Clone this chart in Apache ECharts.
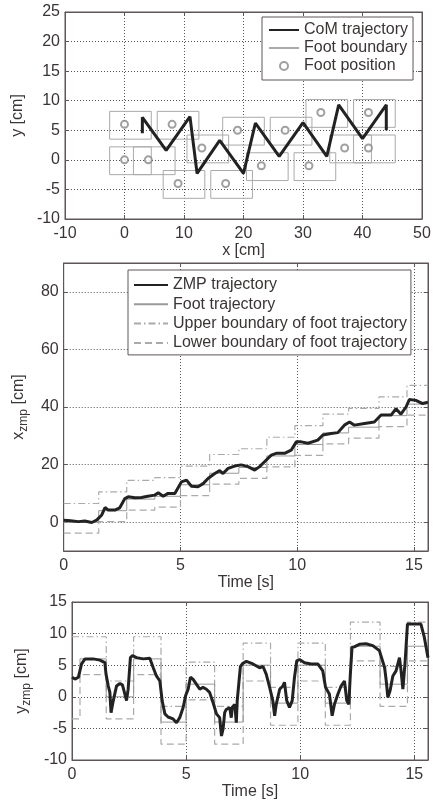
<!DOCTYPE html>
<html>
<head>
<meta charset="utf-8">
<script src="https://cdn.jsdelivr.net/npm/echarts@6/dist/echarts.min.js"></script>
<style>
html, body { margin: 0; padding: 0; background: #fff; }
#chartBox { width: 434px; height: 805px; }
</style>
</head>
<body>
<div id="chartBox"></div>
<script>
// top plot: CoM path and footprints [cm]
let comX = [3, 3, 7, 11, 12.2, 16, 20, 22, 26, 30, 34, 36, 40, 44, 44];
let comY = [4.5, 7.2, 1.6, 7.3, -2.3, 3.3, -2.3, 6.2, 0.6, 6.3, 0.6, 9.3, 3.6, 9.3, 5];
let footPosX = [0, 0, 4, 8, 9, 13, 17, 19, 23, 27, 31, 33, 37, 41, 41];
let footPosY = [6, 0, 0, 6, -4, 2, -4, 5, -1, 5, -1, 8, 2, 8, 2];
// foot outline around a foot position: back, front, lower, upper
let footBox = [-2.5, 4.5, -2.5, 2.2];

// middle plot: x_zmp over time
let zmpXTime = [0, 0.3, 0.63, 0.9, 1.2, 1.41, 1.62, 1.77, 1.91, 2.19, 2.4, 2.62, 2.76, 3.05, 3.33, 3.6, 3.9, 4.05, 4.26, 4.47,
    4.76, 5.04, 5.26, 5.47, 5.75, 5.97, 6.18, 6.47, 6.68, 6.82, 7.04, 7.32, 7.6, 7.89, 8.18, 8.39, 8.6, 8.89, 9.1, 9.46,
    9.74, 9.96, 10.17, 10.46, 10.88, 11.1, 11.45, 11.74, 12.02, 12.24, 12.45, 12.88, 13.3, 13.59, 14.02, 14.23, 14.44, 14.66, 14.8, 15.08,
    15.37, 15.6];
let zmpX = [0.7, 0.5, 0.2, 0.4, -0.1, 0.7, 2.4, 5.1, 4.2, 4.2, 5, 8.2, 8.8, 8.5, 8.6, 9, 9.4, 10.2, 9.0, 10,
    10, 14, 14.6, 12.5, 12.3, 13.4, 15.2, 16.9, 17.9, 16.9, 18.7, 19.5, 19.9, 19.3, 18.1, 19.3, 21, 23.3, 23.9, 23.9,
    25, 27.9, 27.9, 27.4, 28.5, 30.3, 30.8, 31.1, 33.7, 34.8, 33.7, 34.3, 34.8, 37.2, 37.2, 39.4, 37.5, 40, 42.6, 42.3,
    41.2, 41.7];

// bottom plot: y_zmp over time
let zmpYTime = [0, 0.13, 0.28, 0.42, 0.57, 0.93, 1.22, 1.44, 1.49, 1.59, 1.66, 1.71, 1.81, 1.95, 2.1, 2.21, 2.32, 2.39, 2.46, 2.56,
    2.65, 2.83, 3.12, 3.41, 3.56, 3.7, 3.85, 3.95, 4.07, 4.21, 4.43, 4.58, 4.72, 4.87, 4.98, 5.09, 5.19, 5.3, 5.45, 5.6,
    5.74, 5.89, 6.03, 6.18, 6.33, 6.47, 6.55, 6.62, 6.69, 6.76, 6.91, 6.98, 7.02, 7.13, 7.2, 7.24, 7.32, 7.38, 7.49, 7.64,
    7.93, 8.22, 8.37, 8.51, 8.66, 8.8, 8.88, 8.95, 9.1, 9.24, 9.31, 9.41, 9.53, 9.65, 9.75, 9.85, 9.97, 10.19, 10.48, 10.77,
    10.99, 11.11, 11.28, 11.4, 11.5, 11.65, 11.79, 11.94, 12.04, 12.13, 12.19, 12.27, 12.37, 12.59, 12.88, 13.18, 13.47, 13.7, 13.77, 13.84,
    13.94, 14.06, 14.2, 14.35, 14.42, 14.5, 14.6, 14.7, 15.29, 15.44, 15.6];
let zmpY = [3.1, 2.8, 3.1, 5.2, 6.0, 6.0, 5.8, 5.4, 3.6, 1.7, 0.7, -2.5, -0.6, 1.7, 2.1, 1.9, 0.4, -0.6, 1.2, 6.2,
    6.5, 6.2, 6.0, 6.1, 4.6, 3.3, 2.5, -0.6, -2.7, -3.2, -3.5, -4.1, -3.3, -1.7, 0.2, 1.2, 3.1, 2.8, 2.0, 1.2,
    1.5, 1.2, 0.7, -0.9, -2.7, -3.3, -6.2, -5.1, -2.5, -2.0, -1.7, -3.3, -1.7, -1.2, -4.1, -0.6, 2.5, 4.8, 5.3, 5.6,
    5.2, 4.6, 4.8, 3.6, 1.5, -0.6, -3.0, -1.2, 1.2, 1.7, 2.3, -0.6, -1.7, -0.6, 3.1, 5.7, 5.9, 5.4, 5.2, 5.2,
    4.1, 1.5, 0.4, -3.0, -1.2, 0.4, 1.7, 2.5, -0.6, -1.2, 3.1, 7.8, 7.9, 8.3, 8.4, 8.1, 7.3, 4.6, 2.5, -0.1,
    1.0, 3.3, 4.1, 6.2, 4.1, 1.2, 5.7, 11.5, 11.5, 9.4, 6.2];

// foot step functions (value holds until the next time)
let stepTimes = [0, 0.35, 1.5, 2.7, 3.9, 5.0, 6.25, 7.5, 8.7, 9.9, 11.1, 12.2, 13.5, 14.7, 15.6];
let footTrajX = [0, 0, 4, 8, 9, 13, 17, 19, 23, 27, 31, 33, 37, 41, 41];
let footUpperX = [6.5, 6.5, 10.5, 14.5, 15.5, 19.5, 23.5, 25.5, 29.5, 33.5, 37.5, 39.5, 43.5, 47.5, 47.5];
let footLowerX = [-3.8, -3.8, 0.2, 4.2, 5.2, 9.2, 13.2, 15.2, 19.2, 23.2, 27.2, 29.2, 33.2, 37.2, 37.2];
let footTrajY = [3, 6, 0, 6, -4, 2, -4, 5, -1, 5, -1, 8, 2, 8, 8];
let footUpperY = [9.5, 9.5, 2.5, 9.5, -1.5, 5.5, -1.5, 8.5, 1.5, 8.5, 1.5, 11.8, 4.8, 11.8, 11.8];
let footLowerY = [-3.5, 3.5, -3.5, 3.5, -7.5, -0.5, -7.5, 2.5, -4.5, 2.5, -4.5, 5.7, -1.5, 5.7, 5.7];

// axis ticks
let xTicks1 = [-10, 0, 10, 20, 30, 40, 50];
let yTicks1 = [-10, -5, 0, 5, 10, 15, 20, 25];
let yTicks2 = [0, 20, 40, 60, 80];
let yTicks3 = [-10, -5, 0, 5, 10, 15];
let timeTicks = [0, 5, 10, 15];

const FONT = "'Liberation Sans', Arial, sans-serif";
const AXIS_COLOR = '#5e5656';
const TEXT_COLOR = '#3a3434';

function pairs(xs, ys) {
    return xs.map(function (x, i) { return [x, ys[i]]; });
}

// opt.mirror: plain box side (top / right) with inner ticks only
function makeAxis(opt) {
    let ax = {
        type: 'value', gridIndex: opt.grid,
        min: opt.ticks[0], max: opt.max !== undefined ? opt.max : opt.ticks[opt.ticks.length - 1],
        interval: opt.ticks[1] - opt.ticks[0],
        name: opt.mirror ? '' : opt.name, nameLocation: 'middle', nameGap: opt.nameGap,
        nameTextStyle: {color: TEXT_COLOR, fontSize: 16, fontFamily: FONT},
        axisLine: {show: true, onZero: false, lineStyle: {color: AXIS_COLOR, width: 1}},
        axisTick: {show: true, inside: true, length: 4, lineStyle: {color: AXIS_COLOR}},
        axisLabel: {show: !opt.mirror, color: TEXT_COLOR, fontSize: 16, fontFamily: FONT, margin: opt.margin,
            showMaxLabel: opt.max === undefined || !!opt.custom},
        splitLine: {show: !opt.mirror, lineStyle: {type: [1, 2], color: '#555', width: 1}}
    };
    if (opt.position) {
        ax.position = opt.position;
    }
    if (opt.custom) {
        delete ax.interval;
        ax.min = opt.min;
        ax.max = opt.max;
        ax.axisLabel.customValues = opt.ticks;
        ax.axisTick.customValues = opt.ticks;
    }
    if (opt.rich) {
        ax.nameTextStyle.lineHeight = 22;
        ax.nameTextStyle.rich = {sub: {fontSize: 12, fontFamily: FONT, color: TEXT_COLOR, lineHeight: 13, verticalAlign: 'bottom'}};
    }
    return ax;
}

// legend entry for a plain line (hide the symbol dot)
function lineItem(name) {
    return {name: name, itemStyle: {opacity: 0}};
}

let chartBox = echarts.init(document.getElementById('chartBox'));

let series = [];
// foot outlines, one closed polyline each
footPosX.forEach(function (fx, i) {
    let fy = footPosY[i];
    let x0 = fx + footBox[0], x1 = fx + footBox[1];
    let y0 = fy + footBox[2], y1 = fy + footBox[3];
    series.push({
        type: 'line', name: 'Foot boundary', xAxisIndex: 0, yAxisIndex: 0,
        data: [[x0, y0], [x1, y0], [x1, y1], [x0, y1], [x0, y0]],
        symbol: 'none', silent: true, z: 2,
        lineStyle: {color: '#aaa', width: 1}, itemStyle: {color: '#aaa'}
    });
});
series.push({
    type: 'line', name: 'CoM trajectory', xAxisIndex: 0, yAxisIndex: 0,
    data: pairs(comX, comY), symbol: 'none', z: 4,
    lineStyle: {color: '#222', width: 3}, itemStyle: {color: '#222'}
});
series.push({
    type: 'scatter', name: 'Foot position', xAxisIndex: 0, yAxisIndex: 0,
    data: pairs(footPosX, footPosY), symbol: 'emptyCircle', symbolSize: 7, z: 3,
    itemStyle: {color: '#888', borderWidth: 1.4}
});

// time plots
[[1, zmpX, footTrajX, footUpperX, footLowerX], [2, zmpY, footTrajY, footUpperY, footLowerY]].forEach(function (p) {
    let idx = p[0];
    let times = idx === 1 ? zmpXTime : zmpYTime;
    series.push({
        type: 'line', name: 'Upper boundary of foot trajectory', xAxisIndex: idx, yAxisIndex: idx,
        data: pairs(stepTimes, p[3]), step: 'end', symbol: 'none', z: 2,
        lineStyle: {color: '#aaa', width: 1.2, type: [7, 3, 1.5, 3]}, itemStyle: {color: '#aaa'}
    });
    series.push({
        type: 'line', name: 'Lower boundary of foot trajectory', xAxisIndex: idx, yAxisIndex: idx,
        data: pairs(stepTimes, p[4]), step: 'end', symbol: 'none', z: 2,
        lineStyle: {color: '#aaa', width: 1.2, type: [7, 4]}, itemStyle: {color: '#aaa'}
    });
    series.push({
        type: 'line', name: 'Foot trajectory', xAxisIndex: idx, yAxisIndex: idx,
        data: pairs(stepTimes, p[2]), step: 'end', symbol: 'none', z: 3,
        lineStyle: {color: '#999', width: 1}, itemStyle: {color: '#999'}
    });
    series.push({
        type: 'line', name: 'ZMP trajectory', xAxisIndex: idx, yAxisIndex: idx,
        data: pairs(times, p[1]), symbol: 'none', z: 4,
        lineStyle: {color: '#222', width: 3}, itemStyle: {color: '#222'}
    });
});

let legendBase = {
    orient: 'vertical', backgroundColor: '#fff', borderColor: AXIS_COLOR, borderWidth: 1,
    itemHeight: 8, selectedMode: false,
    textStyle: {color: TEXT_COLOR, fontSize: 16, fontFamily: FONT, lineHeight: 18}
};

let chartBoxOption = {
    animation: false,
    backgroundColor: '#fff',
    grid: [
        {left: 65, top: 12, width: 357, height: 207, show: true, borderColor: AXIS_COLOR, borderWidth: 1},
        {left: 62, top: 263, width: 366, height: 288, show: true, borderColor: AXIS_COLOR, borderWidth: 1},
        {left: 72, top: 602, width: 356, height: 158, show: true, borderColor: AXIS_COLOR, borderWidth: 1}
    ],
    legend: [
        Object.assign({}, legendBase, {
            left: 262, top: 17, itemWidth: 30, itemGap: 0, padding: [4, 5, 5, 6],
            data: [lineItem('CoM trajectory'), lineItem('Foot boundary'), {name: 'Foot position', icon: 'emptyCircle'}]
        }),
        Object.assign({}, legendBase, {
            left: 128, top: 270, itemWidth: 34, itemGap: 1.3, padding: [6, 4, 3, 5],
            data: [lineItem('ZMP trajectory'), lineItem('Foot trajectory'),
                lineItem('Upper boundary of foot trajectory'), lineItem('Lower boundary of foot trajectory')]
        })
    ],
    xAxis: [
        makeAxis({grid: 0, ticks: xTicks1, name: 'x [cm]', nameGap: 20, margin: 7}),
        makeAxis({grid: 1, ticks: timeTicks, max: 15.6, name: 'Time [s]', nameGap: 21, margin: 7}),
        makeAxis({grid: 2, ticks: timeTicks, max: 15.6, name: 'Time [s]', nameGap: 19, margin: 7}),
        makeAxis({grid: 0, ticks: xTicks1, mirror: true, position: 'top'}),
        makeAxis({grid: 1, ticks: timeTicks, max: 15.6, mirror: true, position: 'top'}),
        makeAxis({grid: 2, ticks: timeTicks, max: 15.6, mirror: true, position: 'top'})
    ],
    yAxis: [
        makeAxis({grid: 0, ticks: yTicks1, name: 'y [cm]', nameGap: 33, margin: 5}),
        makeAxis({grid: 1, ticks: yTicks2, custom: true, min: -10, max: 90, name: 'x{sub|zmp} [cm]', nameGap: 28, margin: 5, rich: true}),
        makeAxis({grid: 2, ticks: yTicks3, name: 'y{sub|zmp} [cm]', nameGap: 36, margin: 5, rich: true}),
        makeAxis({grid: 0, ticks: yTicks1, mirror: true, position: 'right'}),
        makeAxis({grid: 1, ticks: yTicks2, custom: true, min: -10, max: 90, mirror: true, position: 'right'}),
        makeAxis({grid: 2, ticks: yTicks3, mirror: true, position: 'right'})
    ],
    series: series
};
chartBox.setOption(chartBoxOption, true);
</script>
</body>
</html>
